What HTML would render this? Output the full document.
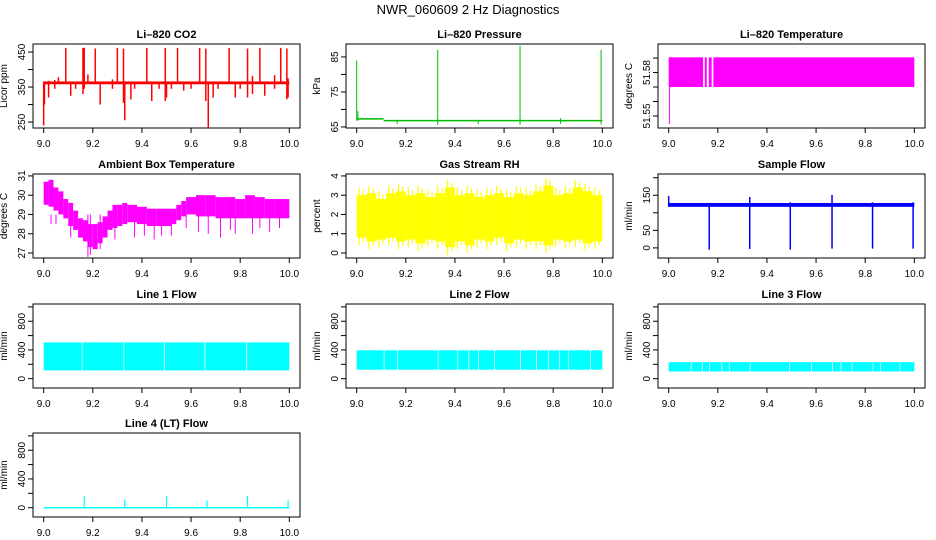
<!DOCTYPE html>
<html><head><meta charset="utf-8"><style>
html,body{margin:0;padding:0;background:#fff;}
svg{display:block;font-family:"Liberation Sans",sans-serif;}
</style></head><body>
<svg id="chart" width="936" height="540" viewBox="0 0 936 540" xmlns="http://www.w3.org/2000/svg">
<text x="468" y="14" text-anchor="middle" font-size="13">NWR_060609  2 Hz Diagnostics</text>
</svg>
<script>
// ---------- data ----------
const xTicks = [9.0, 9.2, 9.4, 9.6, 9.8, 10.0];
const xTickLabels = ["9.0", "9.2", "9.4", "9.6", "9.8", "10.0"];

// CO2
const co2BandLo = [358];
const co2BandHi = [366];
const co2SpikeX = [9.0, 9.003, 9.02, 9.045, 9.06, 9.09, 9.11, 9.13, 9.16, 9.165, 9.18, 9.21, 9.23, 9.25, 9.28, 9.30, 9.325, 9.33, 9.355, 9.37, 9.42, 9.44, 9.47, 9.495, 9.5, 9.52, 9.545, 9.57, 9.6, 9.635, 9.66, 9.67, 9.69, 9.71, 9.755, 9.78, 9.8, 9.83, 9.85, 9.88, 9.9, 9.94, 9.965, 9.99, 9.995];
const co2SpikeLo = [240, 300, 320, 345, 360, 360, 325, 345, 330, 345, 360, 360, 300, 360, 345, 360, 305, 255, 315, 345, 360, 310, 345, 310, 320, 345, 360, 340, 345, 360, 310, 235, 320, 345, 360, 320, 345, 320, 330, 360, 325, 345, 360, 315, 320];
const co2SpikeHi = [366, 366, 368, 370, 378, 462, 366, 366, 462, 462, 386, 460, 366, 366, 372, 462, 460, 366, 366, 366, 462, 366, 366, 462, 366, 366, 462, 366, 366, 462, 460, 366, 366, 366, 462, 366, 366, 460, 382, 462, 366, 384, 462, 460, 375];

// Pressure
const presSegX = [9.0, 9.11, 10.0];
const presSegY = [67.3, 66.8, 66.6];
const presSpikeX = [9.0, 9.005, 9.165, 9.33, 9.495, 9.665, 9.83, 9.995];
const presSpikeLo = [66.8, 66.8, 65.8, 65.6, 65.8, 65.6, 65.9, 65.7];
const presSpikeHi = [84.0, 69.5, 67.0, 87.0, 67.0, 88.2, 67.5, 87.0];

// Li-820 temperature
const tempSegStart = [9.0, 9.147, 9.163, 9.182];
const tempSegEnd = [9.14, 9.155, 9.175, 10.0];
const tempLo = 51.570;
const tempHi = 51.5905;
const tempSpikeX = [9.003];
const tempSpikeLo = [51.5445];

// Ambient box temperature
const ambX = [9.0, 9.02, 9.04, 9.06, 9.08, 9.10, 9.12, 9.14, 9.16, 9.18, 9.20, 9.22, 9.24, 9.26, 9.28, 9.30, 9.32, 9.34, 9.38, 9.42, 9.46, 9.50, 9.52, 9.54, 9.56, 9.58, 9.62, 9.66, 9.70, 9.74, 9.78, 9.82, 9.86, 9.90, 9.94, 9.98];
const ambLo = [29.5, 29.4, 29.2, 29.0, 28.8, 28.4, 28.2, 27.8, 27.6, 27.3, 27.2, 27.5, 27.8, 28.2, 28.3, 28.4, 28.5, 28.6, 28.5, 28.4, 28.4, 28.4, 28.5, 28.7, 28.9, 29.0, 28.9, 28.9, 28.8, 28.8, 28.8, 28.8, 28.8, 28.8, 28.8, 28.8];
const ambHi = [30.7, 30.8, 30.4, 30.2, 29.8, 29.6, 29.2, 28.8, 28.7, 28.5, 28.5, 28.6, 28.9, 29.2, 29.5, 29.5, 29.6, 29.5, 29.4, 29.3, 29.3, 29.3, 29.3, 29.5, 29.7, 29.9, 30.0, 30.0, 29.9, 29.9, 29.8, 30.0, 29.9, 29.8, 29.8, 29.8];
const ambSpikeX = [9.005, 9.03, 9.05, 9.11, 9.18, 9.19, 9.23, 9.29, 9.37, 9.41, 9.45, 9.48, 9.52, 9.58, 9.63, 9.67, 9.72, 9.76, 9.78, 9.85, 9.88, 9.92, 9.96];
const ambSpikeLo = [29.0, 28.5, 28.5, 27.8, 26.8, 26.9, 27.2, 27.7, 27.8, 27.9, 27.7, 27.9, 27.9, 28.3, 28.1, 28.0, 27.8, 28.2, 28.0, 28.0, 28.3, 28.1, 28.3];

// Gas stream RH
const rhX = [9.0, 9.04, 9.08, 9.12, 9.16, 9.2, 9.24, 9.28, 9.32, 9.36, 9.4, 9.44, 9.48, 9.52, 9.56, 9.6, 9.64, 9.68, 9.72, 9.76, 9.8, 9.84, 9.88, 9.92, 9.96];
const rhLo = [0.4, 0.2, 0.3, 0.4, 0.2, 0.3, 0.1, 0.3, 0.2, -0.1, 0.2, 0.0, 0.3, 0.2, 0.4, 0.1, 0.3, 0.2, 0.2, 0.0, 0.3, 0.2, 0.3, 0.1, 0.2];
const rhHi = [3.4, 3.5, 3.2, 3.5, 3.6, 3.4, 3.5, 3.3, 3.5, 3.8, 3.4, 3.5, 3.3, 3.4, 3.5, 3.3, 3.5, 3.4, 3.6, 3.9, 3.4, 3.5, 3.8, 3.6, 3.4];

// Sample flow
const sfBandLo = [117];
const sfBandHi = [128];
const sfSpikeX = [9.0, 9.165, 9.33, 9.495, 9.665, 9.83, 9.995];
const sfSpikeLo = [117, -5, -3, -5, -2, -2, -2];
const sfSpikeHi = [148, 128, 145, 130, 151, 130, 130];

// Line flows
const l1Lo = 115, l1Hi = 505;
const l1Gaps = [9.155, 9.325, 9.49, 9.655, 9.825];
const l2Lo = 125, l2Hi = 395;
const l2Gaps = [9.11, 9.165, 9.33, 9.41, 9.455, 9.495, 9.56, 9.665, 9.73, 9.78, 9.825, 9.86, 9.95];
const l3Lo = 100, l3Hi = 230;
const l3Gaps = [9.09, 9.135, 9.165, 9.215, 9.245, 9.33, 9.49, 9.58, 9.665, 9.7, 9.745, 9.83, 9.86, 9.94];
const l4Lo = -10, l4Hi = 10;
const l4SpikeX = [9.165, 9.33, 9.5, 9.665, 9.83, 9.995];
const l4SpikeHi = [160, 115, 160, 100, 160, 100];

// ---------- layout ----------
const svg = document.getElementById('chart');
const NS = 'http://www.w3.org/2000/svg';
const colL = [33, 346, 658], colW = 267;
const rowT = [44, 174, 304, 433], rowH = 84;

function mk(tag, attrs, parent) {
  const e = document.createElementNS(NS, tag);
  for (const k in attrs) e.setAttribute(k, attrs[k]);
  (parent || svg).appendChild(e);
  return e;
}

function panel(col, row, name, title, ylab, ylim, yTicks, yLabels) {
  const L = colL[col], T = rowT[row], W = colW, H = rowH;
  const g = mk('g', {});
  
  
  const pad = W * 0.04;
  const sx = v => L + pad + (v - 9) / 1 * (W - 2 * pad);
  const sy = v => T + H - (v - ylim[0]) / (ylim[1] - ylim[0]) * H;
  const marks = mk('g', {}, g);
  
  
  const t = mk('text', {x: L + W / 2, y: T - 6, 'text-anchor': 'middle', 'font-size': 11, 'font-weight': 'bold'}, g);
  
  
  t.textContent = title;
  const box = mk('rect', {x: L, y: T, width: W, height: H, fill: 'none', stroke: '#000', 'stroke-width': 1}, g);
  
  
  const xa = mk('g', {}, g);
  
  
  xTicks.forEach((v, i) => {
    mk('line', {x1: sx(v), x2: sx(v), y1: T + H, y2: T + H + 5, stroke: '#000'}, xa);
    const tl = mk('text', {x: sx(v), y: T + H + 19, 'text-anchor': 'middle', 'font-size': 10}, xa);
    
    
    tl.textContent = xTickLabels[i];
  });
  const ya = mk('g', {}, g);
  
  
  yTicks.forEach(v => mk('line', {x1: L - 5, x2: L, y1: sy(v), y2: sy(v), stroke: '#000'}, ya));
  yLabels.forEach(v => {
    const y = sy(v);
    const tl = mk('text', {x: L - 8, y: y, 'text-anchor': 'middle', 'font-size': 10, transform: `rotate(-90 ${L - 8} ${y})`}, ya);
    
    
    tl.textContent = String(v);
  });
  const yt = mk('text', {x: L - 26, y: T + H / 2, 'text-anchor': 'middle', 'font-size': 10, transform: `rotate(-90 ${L - 26} ${T + H / 2})`}, g);
  
  
  yt.textContent = ylab;
  return {sx, sy, g: marks};
}
function rect(p, x0, x1, lo, hi, color) {
  const y1 = p.sy(hi), y2 = p.sy(lo);
  return mk('rect', {x: p.sx(x0), y: y1, width: Math.max(0.8, p.sx(x1) - p.sx(x0)), height: Math.max(1.5, y2 - y1), fill: color}, p.g);
}
function vline(p, x, lo, hi, color, w) {
  return mk('line', {x1: p.sx(x), x2: p.sx(x), y1: p.sy(lo), y2: p.sy(hi), stroke: color, 'stroke-width': w || 1.2}, p.g);
}
function bandWithGaps(p, lo, hi, gaps, color) {
  const edges = [9.0].concat(gaps).concat([10.0]);
  for (let i = 0; i < edges.length - 1; i++) {
    const a = i === 0 ? edges[i] : edges[i] + 0.003;
    rect(p, a, edges[i + 1], lo, hi, color);
  }
}

// CO2
let p = panel(0, 0, 'co2', 'Li\u2013820 CO2', 'Licor ppm', [233, 473], [250, 300, 350, 400, 450], [250, 350, 450]);
rect(p, 9.0, 10.0, co2BandLo[0], co2BandHi[0], '#ff0000');
co2SpikeX.forEach((x, i) => vline(p, x, co2SpikeLo[i], co2SpikeHi[i], '#ff0000', 1.5));

// Pressure
p = panel(1, 0, 'pressure', 'Li\u2013820 Pressure', 'kPa', [64.7, 88.7], [65, 70, 75, 80, 85], [65, 75, 85]);
for (let i = 0; i < presSegX.length - 1; i++) {
  mk('line', {x1: p.sx(presSegX[i]), x2: p.sx(presSegX[i + 1]), y1: p.sy(presSegY[i]), y2: p.sy(presSegY[i]), stroke: '#00bb00', 'stroke-width': 1.5}, p.g);
}
presSpikeX.forEach((x, i) => vline(p, x, presSpikeLo[i], presSpikeHi[i], '#00bb00', 1));

// Temperature
p = panel(2, 0, 'li820-temperature', 'Li\u2013820 Temperature', 'degrees C', [51.5417, 51.5997], [51.55, 51.56, 51.57, 51.58, 51.59], [51.55, 51.58]);
tempSegStart.forEach((s, i) => rect(p, s, tempSegEnd[i], tempLo, tempHi, '#ff00ff'));
tempSpikeX.forEach((x, i) => vline(p, x, tempSpikeLo[i], tempLo, '#ff00ff', 1));

// Ambient
p = panel(0, 1, 'ambient-temp', 'Ambient Box Temperature', 'degrees C', [26.74, 31.1], [27, 28, 29, 30, 31], [27, 28, 29, 30, 31]);
ambX.forEach((x, i) => {
  const x1 = i < ambX.length - 1 ? ambX[i + 1] : 10.0;
  rect(p, x, x1, ambLo[i], ambHi[i], '#ff00ff');
});
ambSpikeX.forEach((x, i) => vline(p, x, ambSpikeLo[i], 29.0, '#ff00ff', 1));

// RH
p = panel(1, 1, 'gas-stream-rh', 'Gas Stream RH', 'percent', [-0.26, 4.1], [0, 1, 2, 3, 4], [0, 1, 2, 3, 4]);
rhX.forEach((x, i) => {
  const x1 = i < rhX.length - 1 ? rhX[i + 1] : 10.0;
  rect(p, x, x1, rhLo[i] + 0.4, rhHi[i] - 0.4, '#ffff00');
  vline(p, x + 0.01, rhLo[i], rhHi[i], '#ffff00', 1.2);
  vline(p, x + 0.027, rhLo[i] + 0.2, rhHi[i] - 0.15, '#ffff00', 1.2);
});

// Sample flow
p = panel(2, 1, 'sample-flow', 'Sample Flow', 'ml/min', [-28.8, 210.6], [0, 50, 100, 150, 200], [0, 50, 150]);
rect(p, 9.0, 10.0, sfBandLo[0], sfBandHi[0], '#0000ff');
sfSpikeX.forEach((x, i) => vline(p, x, sfSpikeLo[i], sfSpikeHi[i], '#0000ff', 1.5));

// Line flows
const flowLim = [-130, 1040], flowTicks = [0, 200, 400, 600, 800, 1000], flowLabels = [0, 400, 800];
p = panel(0, 2, 'line1-flow', 'Line 1 Flow', 'ml/min', flowLim, flowTicks, flowLabels);
bandWithGaps(p, l1Lo, l1Hi, l1Gaps, '#00ffff');
p = panel(1, 2, 'line2-flow', 'Line 2 Flow', 'ml/min', flowLim, flowTicks, flowLabels);
bandWithGaps(p, l2Lo, l2Hi, l2Gaps, '#00ffff');
p = panel(2, 2, 'line3-flow', 'Line 3 Flow', 'ml/min', flowLim, flowTicks, flowLabels);
bandWithGaps(p, l3Lo, l3Hi, l3Gaps, '#00ffff');
p = panel(0, 3, 'line4-flow', 'Line 4 (LT) Flow', 'ml/min', flowLim, flowTicks, flowLabels);
rect(p, 9.0, 10.0, l4Lo, l4Hi, '#00ffff');
l4SpikeX.forEach((x, i) => vline(p, x, 0, l4SpikeHi[i], '#00ffff', 1.2));
</script>
</body></html>
